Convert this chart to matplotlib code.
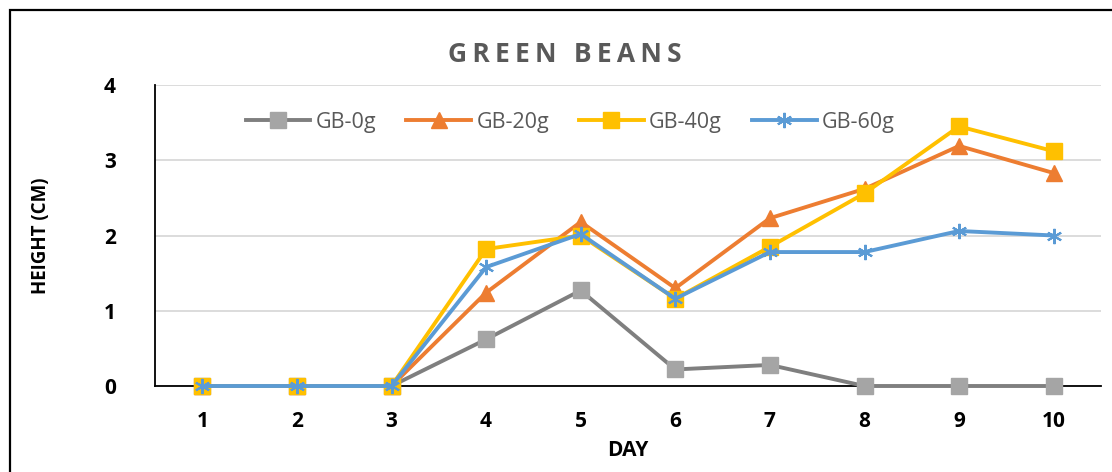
import numpy as np
import matplotlib.pyplot as plt
from matplotlib.patches import Rectangle

plt.rcParams['font.family'] = ['Open Sans', 'DejaVu Sans']

days = [1, 2, 3, 4, 5, 6, 7, 8, 9, 10]
gb_0g = [0, 0, 0, 0.62, 1.27, 0.22, 0.28, 0, 0, 0]
gb_20g = [0, 0, 0, 1.24, 2.18, 1.30, 2.23, 2.62, 3.19, 2.83]
gb_40g = [0, 0, 0, 1.82, 2.00, 1.16, 1.85, 2.56, 3.45, 3.12]
gb_60g = [0, 0, 0, 1.58, 2.02, 1.16, 1.78, 1.78, 2.06, 2.00]
y_ticks = [0, 1, 2, 3, 4]

fig = plt.figure(figsize=(11.12, 4.72), dpi=100)
ax = fig.add_axes([155 / 1112, 1 - 386 / 472, 946 / 1112, 301 / 472])

# rama wykresu (ucieta z prawej i od dolu jak w oryginale)
fig.patches.append(Rectangle((10 / 1112, -0.05), 1.2, 1 - 10 / 472 + 0.05,
                             transform=fig.transFigure, fill=False,
                             edgecolor='black', linewidth=1.6, zorder=0))

lw = 2.8
ms = 11
ax.plot(days, gb_0g, color='#7f7f7f', lw=lw, marker='s', ms=ms,
        mfc='#a5a5a5', mec='#a5a5a5', label='GB-0g', zorder=3, clip_on=False)
ax.plot(days, gb_20g, color='#ed7d31', lw=lw, marker='^', ms=ms,
        mfc='#ed7d31', mec='#ed7d31', label='GB-20g', zorder=4, clip_on=False)
ax.plot(days, gb_40g, color='#ffc000', lw=lw, marker='s', ms=ms,
        mfc='#ffc000', mec='#ffc000', label='GB-40g', zorder=5, clip_on=False)
ax.plot(days, gb_60g, color='#5b9bd5', lw=lw, marker=(6, 2, 0), ms=ms,
        mfc='#5b9bd5', mec='#5b9bd5', mew=1.5, label='GB-60g', zorder=6,
        clip_on=False)

ax.set_xlim(0.5, 10.5)
ax.set_ylim(0, 4)
ax.set_xticks(days)
ax.set_yticks(y_ticks)
ax.tick_params(axis='both', length=0, labelsize=15)
ax.tick_params(axis='x', pad=18)
ax.tick_params(axis='y', pad=28)
for lab in ax.get_xticklabels() + ax.get_yticklabels():
    lab.set_fontweight('bold')
ax.grid(axis='y', color='#d9d9d9', lw=1.3, zorder=0)
ax.set_axisbelow(True)
for s in ['top', 'right']:
    ax.spines[s].set_visible(False)
ax.spines['left'].set_color('black')
ax.spines['bottom'].set_color('black')
ax.spines['left'].set_linewidth(1.3)
ax.spines['bottom'].set_linewidth(1.3)

ax.set_xlabel('DAY', fontsize=15, fontweight='bold', labelpad=6)
ax.set_ylabel('HEIGHT (CM)', fontsize=13.5, fontweight='bold', labelpad=38)

leg = ax.legend(loc='center', bbox_to_anchor=(0.439, 0.877), ncol=4,
                frameon=False, fontsize=15.5, handlelength=3.0,
                columnspacing=1.4, handletextpad=0.25)
for t in leg.get_texts():
    t.set_color('#595959')

fig.text(565 / 1112, 1 - 54 / 472, '\u2009'.join('GREEN BEANS'),
         ha='center', va='center', fontsize=19, fontweight='bold',
         color='#595959')

fig.savefig('out.png', dpi=100)
